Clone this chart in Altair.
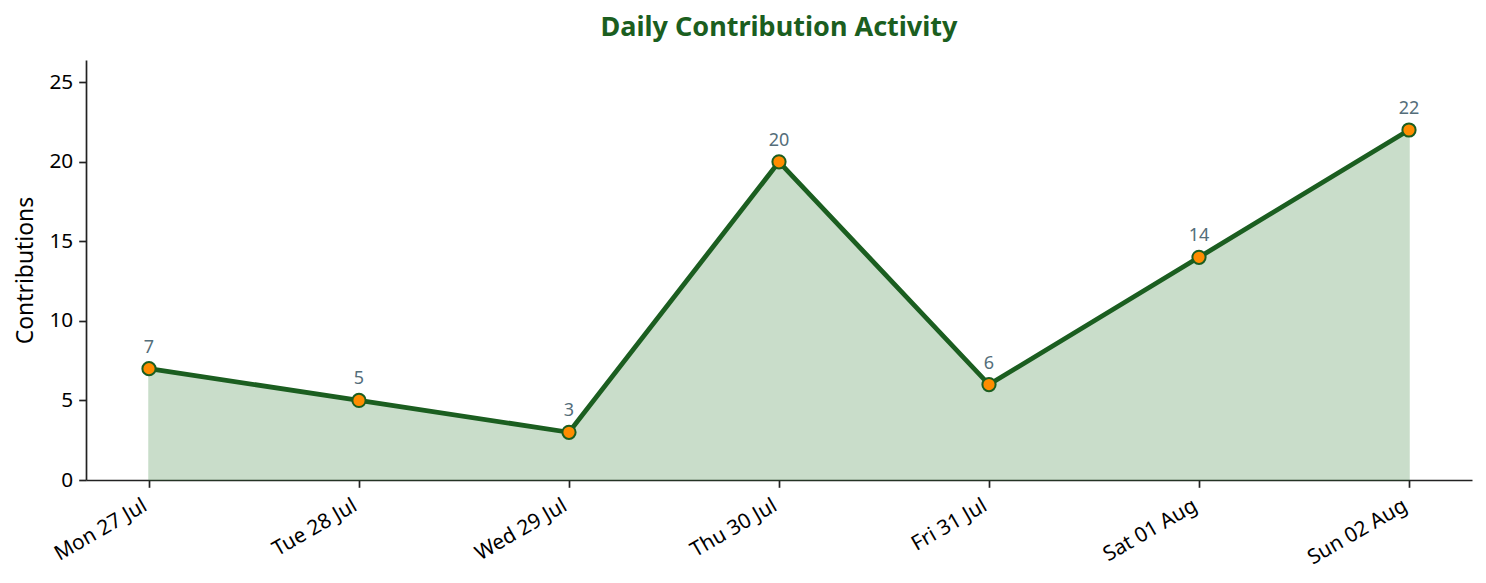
import altair as alt
import pandas as pd

days = ["Mon 27 Jul", "Tue 28 Jul", "Wed 29 Jul", "Thu 30 Jul", "Fri 31 Jul", "Sat 01 Aug", "Sun 02 Aug"]
contributions = [7, 5, 3, 20, 6, 14, 22]

df = pd.DataFrame({"day": days, "value": contributions})

FONT = "Noto Sans"
x_enc = alt.X(
    "day:N",
    sort=days,
    scale=alt.Scale(type="point", padding=0.3),
    axis=alt.Axis(
        title=None,
        labelAngle=-30,
        labelAlign="right",
        labelBaseline="top",
        labelFontSize=20.8,
        labelColor="#000000",
        labelPadding=8,
        labelOffset=-9,
        labelLimit=300,
        tickSize=7.3,
        tickWidth=1.7,
        tickColor="#222222",
        domainColor="#222222",
        domainWidth=1.7,
        grid=False,
        labelFont=FONT,
    ),
)
y_enc = alt.Y(
    "value:Q",
    scale=alt.Scale(domain=[0, 26.4], nice=False, zero=True),
    axis=alt.Axis(
        title="Contributions",
        values=[0, 5, 10, 15, 20, 25],
        labelFontSize=20.8,
        labelColor="#000000",
        labelPadding=6,
        tickSize=7.3,
        tickWidth=1.7,
        tickColor="#222222",
        domainColor="#222222",
        domainWidth=1.7,
        grid=False,
        titleFontSize=22.9,
        titleFontWeight="normal",
        titleColor="#000000",
        titlePadding=11,
        labelFont=FONT,
        titleFont=FONT,
    ),
)

base = alt.Chart(df)

area = base.mark_area(color="#2e7d32", opacity=0.25, stroke="#2e7d32", strokeWidth=1.5).encode(x=x_enc, y=y_enc)
line = base.mark_line(color="#1b5e20", strokeWidth=4.8).encode(x=x_enc, y=y_enc)
points = base.mark_point(
    shape="circle", filled=True, fill="#ff8c00", stroke="#1b5e20", strokeWidth=2, size=175, opacity=1
).encode(x=x_enc, y=y_enc)
labels = base.mark_text(
    dy=-16, baseline="alphabetic", align="center", fontSize=18, color="#546e7a", font=FONT
).encode(x=x_enc, y=y_enc, text="value:Q")

chart = (
    alt.layer(area, line, points, labels)
    .properties(
        width=1386,
        height=420,
        autosize=alt.AutoSizeParams(type="none"),
        padding={"left": 78, "top": 52, "right": 2, "bottom": 95},
        title=alt.TitleParams(
            "Daily Contribution Activity",
            fontSize=27,
            fontWeight="bold",
            color="#1b5e20",
            font=FONT,
            anchor="middle",
            offset=18,
        ),
    )
    .configure(background="white", view=alt.ViewConfig(stroke=None, strokeWidth=0))
)

chart.save("out.html", embed_options={"renderer": "svg", "actions": False})
